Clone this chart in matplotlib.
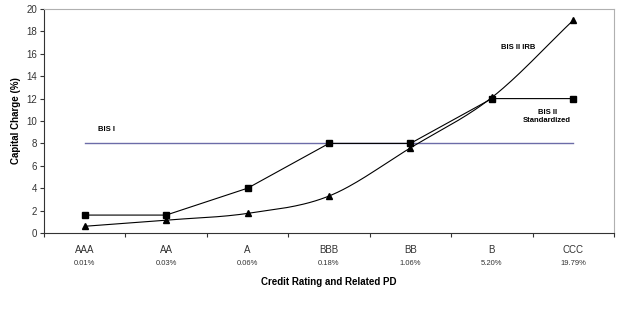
# capital charge by credit rating: BIS I vs BIS II

from matplotlib import pyplot as plt
from matplotlib.transforms import blended_transform_factory
import numpy as np

plt.rcParams['font.family'] = ['Liberation Sans', 'DejaVu Sans']

ratings = ['AAA', 'AA', 'A', 'BBB', 'BB', 'B', 'CCC']
pd_labels = ['0.01%', '0.03%', '0.06%', '0.18%', '1.06%', '5.20%', '19.79%']
bis1 = [8, 8, 8, 8, 8, 8, 8]
bis2_std = [1.6, 1.6, 4, 8, 8, 12, 12]
bis2_irb = [0.6, 1.15, 1.75, 3.3, 7.6, 12.1, 19]


def smooth(x, y, n=30):
    # Catmull-Rom curve through the points, like Excel's smoothed line
    x = np.asarray(x, float)
    y = np.asarray(y, float)
    px = np.concatenate([[2 * x[0] - x[1]], x, [2 * x[-1] - x[-2]]])
    py = np.concatenate([[2 * y[0] - y[1]], y, [2 * y[-1] - y[-2]]])
    t = np.linspace(0, 1, n)
    xs, ys = [], []
    for i in range(1, len(px) - 2):
        for p, out in ((px, xs), (py, ys)):
            p0, p1, p2, p3 = p[i - 1], p[i], p[i + 1], p[i + 2]
            out.append(0.5 * (2 * p1 + (-p0 + p2) * t
                              + (2 * p0 - 5 * p1 + 4 * p2 - p3) * t ** 2
                              + (-p0 + 3 * p1 - 3 * p2 + p3) * t ** 3))
    return np.concatenate(xs), np.concatenate(ys)


f = plt.figure(figsize=(6.21, 3.15), dpi=100)
ax = f.add_axes([44 / 621, 1 - 233 / 315, 570 / 621, 224 / 315])

x = np.arange(len(ratings))

ax.plot(x, bis1, color='#6C6CA8', lw=1.0)
ax.plot(x, bis2_std, color='black', lw=0.8, marker='s', ms=4)
sx, sy = smooth(x, bis2_irb)
ax.plot(sx, sy, color='black', lw=0.8)
ax.plot(x, bis2_irb, ls='none', color='black', marker='^', ms=4)

ax.set_xlim(-0.5, len(ratings) - 0.5)
ax.set_ylim(0, 20)
ax.set_yticks(np.arange(0, 21, 2))
ax.set_xticks(np.arange(len(ratings) + 1) - 0.5)
ax.set_xticklabels([])
ax.tick_params(axis='both', direction='out', length=3, width=0.8, labelsize=7, colors='#333333')
ax.tick_params(axis='y', pad=2)

trans = blended_transform_factory(ax.transData, ax.transAxes)
for i in range(len(ratings)):
    ax.text(i, -0.055, ratings[i], transform=trans, ha='center', va='top', fontsize=7, color='#333333')
    ax.text(i, -0.12, pd_labels[i], transform=trans, ha='center', va='top', fontsize=5.5, color='#333333')

for side in ['top', 'right']:
    ax.spines[side].set_color('#B0B0B0')
for side in ['left', 'bottom']:
    ax.spines[side].set_color('#333333')
    ax.spines[side].set_linewidth(0.8)

ax.set_ylabel('Capital Charge (%)', fontsize=7, fontweight='bold', labelpad=4)
ax.set_xlabel('Credit Rating and Related PD', fontsize=7, fontweight='bold', labelpad=25)

ax.text(0.16, 9.2, 'BIS I', fontsize=5.5, fontweight='bold', ha='left', va='center')
ax.text(5.32, 16.6, 'BIS II IRB', fontsize=5.5, fontweight='bold', ha='center', va='center')
ax.text(5.68, 10.4, 'BIS II\nStandardized', fontsize=5.5, fontweight='bold', ha='center', va='center',
        linespacing=1.3)

f.savefig('out.png', dpi=100)
